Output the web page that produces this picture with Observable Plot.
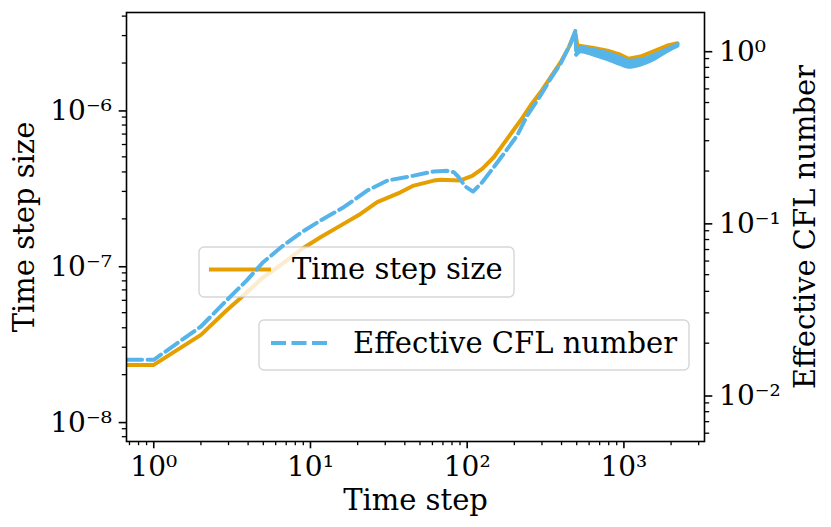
<!DOCTYPE html>
<html>
<head>
<meta charset="utf-8">
<script src="https://cdn.jsdelivr.net/npm/d3@7"></script>
<script src="https://cdn.jsdelivr.net/npm/@observablehq/plot@0.6"></script>
<style>
  html, body { margin: 0; padding: 0; background: white; }
  #chart svg { display: block; }
</style>
</head>
<body>
<div id="chart"></div>
<script>
// ---- data ----
const dtSteps  = [0.5, 1, 2, 2.91, 3.63, 5, 6.37, 8.8, 11.58, 15.54, 20.85, 26.65, 37.5, 45.6, 61.2, 67.5, 90.6, 107.6, 124.6, 147.8, 180, 218.9, 253.5, 293.7, 340.1, 393.9, 444.9, 489, 505, 640, 786, 950, 1069, 1276, 1545, 1897, 2198];
const dtValues = [2.31e-8, 2.31e-8, 3.60e-8, 5.16e-8, 6.28e-8, 8.43e-8, 1.00e-7, 1.28e-7, 1.524e-7, 1.81e-7, 2.15e-7, 2.56e-7, 2.96e-7, 3.27e-7, 3.52e-7, 3.56e-7, 3.53e-7, 3.77e-7, 4.19e-7, 4.97e-7, 6.52e-7, 8.55e-7, 1.067e-6, 1.298e-6, 1.62e-6, 2.02e-6, 2.52e-6, 3.15e-6, 2.59e-6, 2.50e-6, 2.40e-6, 2.26e-6, 2.13e-6, 2.20e-6, 2.38e-6, 2.59e-6, 2.68e-6];

const cflSteps  = [0.5, 1, 2, 2.91, 3.91, 4.99, 6.7, 8.8, 11.58, 16.3, 23.0, 30.9, 45.6, 61.2, 74.6, 82.1, 88.4, 97, 109, 124.6, 147.8, 171.2, 208.5, 241.5, 293.7, 340.1, 393.9, 456.1, 491, 496];
const cflValues = [0.01602, 0.01602, 0.0250, 0.0354, 0.0462, 0.0591, 0.0739, 0.0883, 0.1032, 0.1233, 0.154, 0.176, 0.188, 0.199, 0.2005, 0.197, 0.184, 0.163, 0.152, 0.172, 0.2106, 0.252, 0.322, 0.4204, 0.5495, 0.687, 0.8395, 1.097, 1.311, 0.95];

// oscillating tail of the CFL number: lower / upper envelope
const bandSteps = [496, 528, 640, 786, 950, 1069, 1276, 1545, 1897, 2198];
const bandUpper = [0.95, 1.044, 1.012, 0.968, 0.913, 0.874, 0.886, 0.942, 1.021, 1.091];
const bandLower = [0.95, 0.994, 0.951, 0.893, 0.835, 0.807, 0.832, 0.893, 0.999, 1.068];

const xTicks = [1, 10, 100, 1000];
const xTickLabels = ["10⁰", "10¹", "10²", "10³"];
const dtTicks = [1e-8, 1e-7, 1e-6];
const dtTickLabels = ["10⁻⁸", "10⁻⁷", "10⁻⁶"];
const cflTicks = [0.01, 0.1, 1];
const cflTickLabels = ["10⁻²", "10⁻¹", "10⁰"];

const seriesNames = ["Time step size", "Effective CFL number"];
const axisLabels = { x: "Time step", left: "Time step size", right: "Effective CFL number" };

// ---- scales ----
const xDomain = [0.67, 3268];
const yDomain = [7.45e-9, 4.22e-6];
const cflDomain = [0.00537, 1.667];

const ORANGE = "#E69F00", BLUE = "#56B4E9";
const FONT = "DejaVu Serif";

const L0 = Math.log10(yDomain[0]), L1 = Math.log10(yDomain[1]);
const R0 = Math.log10(cflDomain[0]), R1 = Math.log10(cflDomain[1]);
const toLeft = c => Math.pow(10, L0 + (Math.log10(c) - R0) / (R1 - R0) * (L1 - L0));

function minors(lo, hi) {
  const out = [];
  for (let e = Math.floor(Math.log10(lo)); e <= Math.ceil(Math.log10(hi)); e++)
    for (let m = 2; m <= 9; m++) { const v = m * Math.pow(10, e); if (v >= lo && v <= hi) out.push(v); }
  return out;
}
const labelFor = (ticks, labels) => d => {
  let best = 0, bd = Infinity;
  ticks.forEach((t, i) => { const dd = Math.abs(Math.log10(t) - Math.log10(d)); if (dd < bd) { bd = dd; best = i; } });
  return labels[best];
};

const dtData = dtSteps.map((s, i) => ({ step: s, value: dtValues[i] }));
const cflData = cflSteps.map((s, i) => ({ step: s, value: toLeft(cflValues[i]) }));
const bandData = bandSteps.map((s, i) => ({ step: s, lo: toLeft(bandLower[i]), hi: toLeft(bandUpper[i]) }));

const cflTicksLeft = cflTicks.map(toLeft);
const cflMinorLeft = minors(cflDomain[0], cflDomain[1]).map(toLeft);

const TS = 7.3, TP = 7.3, MS = 4.2;
const BAND_CURVE = "monotone-x";

const chart = Plot.plot({
  width: 831, height: 527,
  marginLeft: 126, marginRight: 127, marginTop: 12, marginBottom: 86,
  x: { type: "log", domain: xDomain },
  y: { type: "log", domain: yDomain },
  style: { fontFamily: FONT, fontSize: "28px", background: "white", color: "black", overflow: "visible" },
  marks: [
    Plot.line(dtData, { x: "step", y: "value", stroke: ORANGE, strokeWidth: 4, strokeLinejoin: "round", clip: true }),
    Plot.areaY(bandData, { x: "step", y1: "lo", y2: "hi", fill: BLUE, curve: BAND_CURVE, clip: true }),
    Plot.line(bandData, { x: "step", y: "lo", stroke: BLUE, strokeWidth: 4, curve: BAND_CURVE, clip: true }),
    Plot.line(bandData, { x: "step", y: "hi", stroke: BLUE, strokeWidth: 4, curve: BAND_CURVE, clip: true }),
    Plot.line(cflData, { x: "step", y: "value", stroke: BLUE, strokeWidth: 4, strokeDasharray: "15,5.5", strokeLinejoin: "round", clip: true }),
    // axes
    Plot.axisX({ ticks: minors(xDomain[0], xDomain[1]), tickSize: MS, tickFormat: () => "", strokeWidth: 1.3, label: null }),
    Plot.axisX({ ticks: xTicks, tickSize: TS, tickPadding: TP, tickFormat: labelFor(xTicks, xTickLabels), strokeWidth: 1.6, fontSize: 28, label: null }),
    Plot.axisY({ anchor: "left", ticks: minors(yDomain[0], yDomain[1]), tickSize: MS, tickFormat: () => "", strokeWidth: 1.3, label: null }),
    Plot.axisY({ anchor: "left", ticks: dtTicks, tickSize: TS, tickPadding: TP, tickFormat: labelFor(dtTicks, dtTickLabels), strokeWidth: 1.6, fontSize: 28, dy: 1, label: null }),
    Plot.axisY({ anchor: "right", ticks: cflMinorLeft, tickSize: MS, tickFormat: () => "", strokeWidth: 1.3, label: null }),
    Plot.axisY({ anchor: "right", ticks: cflTicksLeft, tickSize: TS, tickPadding: TP, tickFormat: labelFor(cflTicksLeft, cflTickLabels), strokeWidth: 1.6, fontSize: 28, dy: 1, label: null }),
    Plot.frame({ stroke: "black", strokeWidth: 1.6 }),
    Plot.text([axisLabels.left], { text: d => d, frameAnchor: "left", dx: -101.6, rotate: -90, textAnchor: "middle", lineAnchor: "middle", fontSize: 29 }),
    Plot.text([axisLabels.right], { text: d => d, frameAnchor: "right", dx: 101, rotate: -90, textAnchor: "middle", lineAnchor: "middle", fontSize: 29 }),
    Plot.text([axisLabels.x], { text: d => d, frameAnchor: "bottom", dy: 48, textAnchor: "middle", lineAnchor: "top", fontSize: 29 })
  ]
});

document.getElementById("chart").appendChild(chart);

// ---- legends (two separate boxes, like the twin-axes original) ----
function legendBox(box, sample, label, color, dash) {
  const g = document.createElementNS("http://www.w3.org/2000/svg", "g");
  const s = d3.select(g);
  s.append("rect").attr("x", box.x).attr("y", box.y).attr("width", box.w).attr("height", box.h)
    .attr("rx", 5).attr("fill", "white").attr("fill-opacity", 0.8)
    .attr("stroke", "#cccccc").attr("stroke-opacity", 0.8).attr("stroke-width", 1.4);
  const ln = s.append("line").attr("x1", sample.x1).attr("x2", sample.x2).attr("y1", sample.y).attr("y2", sample.y)
    .attr("stroke", color).attr("stroke-width", 4);
  if (dash) ln.attr("stroke-dasharray", dash);
  s.append("text").attr("x", sample.tx).attr("y", sample.ty).attr("font-family", FONT)
    .attr("text-anchor", "start").attr("font-size", 29).attr("fill", "black").text(label);
  return g;
}
const leg1 = legendBox({ x: 199, y: 247, w: 315, h: 50 }, { x1: 209, x2: 271, y: 269.5, tx: 292, ty: 279 }, seriesNames[0], ORANGE);
const leg2 = legendBox({ x: 259, y: 320, w: 430, h: 50 }, { x1: 271, x2: 328, y: 343, tx: 353, ty: 353 }, seriesNames[1], BLUE, "15,5.5");
const areaNode = chart.querySelector('[aria-label="area"]');
if (areaNode) areaNode.parentNode.insertBefore(leg1, areaNode); else chart.appendChild(leg1);
const frameNode = chart.querySelector('[aria-label="frame"]');
if (frameNode) frameNode.parentNode.insertBefore(leg2, frameNode); else chart.appendChild(leg2);
</script>
</body>
</html>
